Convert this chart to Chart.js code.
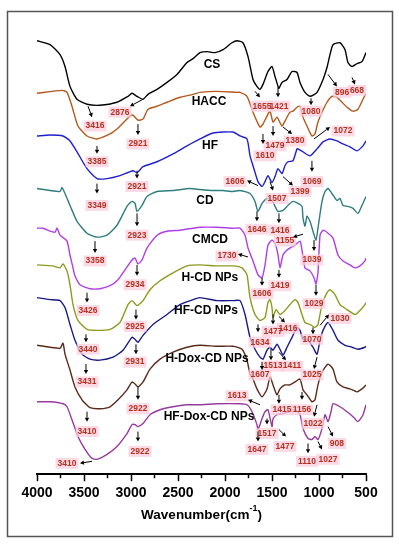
<!DOCTYPE html>
<html>
<head>
<meta charset="utf-8">
<title>FTIR spectra</title>
<script src="https://cdn.jsdelivr.net/npm/chart.js@4.4.1/dist/chart.umd.min.js"></script>
<style>
  body { margin: 0; background: #fff; }
  #wrap { width: 399px; height: 550px; }
</style>
</head>
<body>
<div id="wrap"><canvas id="ftir" width="399" height="550"></canvas></div>
<script>
// [wavenumber cm-1, transmittance (stacked, a.u.)]
const cs = [[4000,437],[3862,433],[3755,423],[3702,411],[3649,391],[3574,378],[3468,373],[3330,372],[3149,375],[3032,381],[2989,384],[2936,381],[2872,378],[2819,383],[2723,388],[2617,395],[2511,403],[2404,415],[2340,419],[2266,425],[2191,426],[2106,425],[2021,428],[1926,435],[1872,437],[1809,435],[1755,421],[1702,398],[1660,391],[1628,388],[1596,393],[1543,406],[1500,411],[1468,401],[1436,391],[1426,389],[1394,395],[1340,398],[1287,406],[1234,405],[1202,395],[1149,385],[1096,381],[1021,385],[957,398],[915,410],[883,423],[851,433],[777,435],[723,428],[692,415],[649,411],[596,414],[543,416],[500,425]];
const hacc = [[4000,384],[3734,387],[3681,385],[3628,371],[3564,351],[3468,341],[3362,338],[3223,343],[3149,348],[3064,356],[3011,361],[2979,362],[2926,357],[2872,358],[2819,368],[2723,371],[2617,375],[2479,380],[2340,383],[2266,385],[2085,386],[1872,385],[1840,385],[1766,381],[1702,365],[1628,350],[1596,353],[1553,361],[1521,366],[1489,355],[1447,360],[1394,351],[1362,356],[1309,365],[1277,366],[1234,370],[1202,371],[1170,360],[1128,351],[1075,341],[1043,343],[1011,355],[968,365],[915,375],[862,381],[809,380],[755,375],[702,370],[638,366],[585,368],[532,378],[500,384]];
const hf = [[4000,341],[3862,342],[3723,341],[3649,336],[3574,325],[3468,308],[3362,298],[3255,298],[3117,301],[2979,306],[2936,304],[2872,310],[2723,315],[2553,323],[2404,331],[2266,338],[2128,344],[1915,345],[1840,341],[1766,338],[1734,321],[1702,311],[1649,295],[1606,290],[1574,295],[1543,301],[1500,294],[1468,300],[1436,308],[1394,303],[1362,311],[1330,315],[1277,316],[1234,328],[1223,328],[1170,325],[1096,321],[1021,328],[957,335],[883,338],[809,336],[745,333],[670,330],[596,326],[532,331],[500,336]];
const cd = [[4000,288],[3862,286],[3755,285],[3734,289],[3702,283],[3649,271],[3574,255],[3468,243],[3362,239],[3255,241],[3149,251],[3043,270],[2989,275],[2957,273],[2936,265],[2883,271],[2830,280],[2723,285],[2553,286],[2372,288],[2266,287],[2128,286],[2021,286],[1915,285],[1840,286],[1734,283],[1681,275],[1649,265],[1606,273],[1553,278],[1500,276],[1468,270],[1436,265],[1383,266],[1330,271],[1277,275],[1223,273],[1181,270],[1170,258],[1149,250],[1128,260],[1096,255],[1064,245],[1032,236],[1011,248],[968,275],[936,285],[904,288],[862,283],[809,276],[777,278],[745,271],[692,270],[638,268],[585,263],[543,271],[500,280]];
const cmcd = [[4000,248],[3936,248],[3862,245],[3809,244],[3787,248],[3755,241],[3681,235],[3649,221],[3617,208],[3596,200],[3543,191],[3436,187],[3330,187],[3223,190],[3138,196],[3064,206],[2989,216],[2957,218],[2926,212],[2883,216],[2830,228],[2723,241],[2617,245],[2479,246],[2340,248],[2266,249],[2085,249],[1915,248],[1840,248],[1787,241],[1755,228],[1702,215],[1649,201],[1606,198],[1574,211],[1543,231],[1500,236],[1468,233],[1436,221],[1415,208],[1383,221],[1340,226],[1309,228],[1255,231],[1202,235],[1181,226],[1149,208],[1096,205],[1053,198],[1032,192],[1011,203],[989,241],[957,246],[904,243],[851,238],[798,221],[745,215],[670,211],[617,208],[564,210],[511,215],[500,218]];
const hcd = [[4000,211],[3830,210],[3755,208],[3723,212],[3681,205],[3649,191],[3617,171],[3564,155],[3468,146],[3362,145],[3223,146],[3117,153],[3032,171],[2989,175],[2936,170],[2872,175],[2798,186],[2691,195],[2553,203],[2404,210],[2266,211],[2085,210],[1915,210],[1819,208],[1766,201],[1734,178],[1681,161],[1628,155],[1574,158],[1543,173],[1521,176],[1500,168],[1489,158],[1457,166],[1415,161],[1362,165],[1309,171],[1255,176],[1223,173],[1181,161],[1149,153],[1096,151],[1043,148],[1011,151],[968,171],[915,183],[883,186],[830,181],[777,171],[702,166],[617,161],[564,165],[511,171],[500,173]];
const hfcd = [[4000,178],[3862,176],[3755,175],[3702,168],[3649,151],[3596,135],[3521,121],[3436,116],[3330,115],[3191,118],[3085,125],[2989,138],[2957,136],[2926,133],[2872,140],[2766,151],[2617,161],[2479,171],[2340,176],[2266,178],[2085,175],[1915,175],[1840,175],[1787,161],[1734,138],[1681,126],[1628,118],[1596,116],[1553,125],[1521,128],[1489,125],[1447,131],[1415,126],[1383,120],[1340,128],[1287,138],[1234,148],[1202,145],[1170,136],[1117,135],[1064,128],[1021,121],[989,135],[957,145],[904,153],[851,145],[798,135],[723,130],[649,128],[585,126],[511,128],[500,129]];
const hdox = [[4000,130],[3862,128],[3755,127],[3723,132],[3702,121],[3649,105],[3596,88],[3521,75],[3436,67],[3330,66],[3223,68],[3138,75],[3043,85],[2989,93],[2957,91],[2926,88],[2872,93],[2798,106],[2691,116],[2553,123],[2404,128],[2266,130],[2085,129],[1915,129],[1819,126],[1766,115],[1734,101],[1702,96],[1660,86],[1606,78],[1553,86],[1521,98],[1489,90],[1447,80],[1415,86],[1362,90],[1309,90],[1255,93],[1202,96],[1170,85],[1128,80],[1075,73],[1043,75],[1011,90],[968,103],[904,111],[851,106],[809,93],[745,88],[670,86],[596,83],[543,86],[500,90]];
const hfdox = [[4000,73],[3862,73],[3723,71],[3681,68],[3628,55],[3564,38],[3489,25],[3415,16],[3362,15],[3255,20],[3149,28],[3043,41],[2989,50],[2957,50],[2926,48],[2872,51],[2798,60],[2691,65],[2553,68],[2404,70],[2266,70],[2085,71],[1840,71],[1766,70],[1713,63],[1660,50],[1649,45],[1606,56],[1574,63],[1543,65],[1500,48],[1489,56],[1447,60],[1383,61],[1330,63],[1255,65],[1202,60],[1170,46],[1117,36],[1075,35],[1043,38],[1011,35],[968,46],[936,60],[904,53],[872,63],[851,71],[777,68],[702,63],[638,58],[585,53],[532,60],[500,70]];

const spectra = [cs, hacc, hf, cd, cmcd, hcd, hfcd, hdox, hfdox];
const sampleNames = ['CS', 'HACC', 'HF', 'CD', 'CMCD', 'H-CD NPs', 'HF-CD NPs', 'H-Dox-CD NPs', 'HF-Dox-CD NPs'];
const lineColors = ['#000000', '#b4581c', '#2020d0', '#2e7d80', '#b03ee8', '#8c9a1e', '#1a1a8a', '#5a2a1a', '#963a9e'];

// where each sample name sits: [wavenumber, transmittance]
const namePos = [[2138,413],[2170,376],[2160,331],[2213,276],[2160,236],[2160,198],[2202,165],[2191,116],[2170,58]];

// peak labels: [text, label w, label t, arrow start w, t, arrow end w, t]
const peaks = [
  ['3416',3383,351, 3457,371, 3415,360],
  ['2876',3117,365, 2872,378, 3011,371],
  ['1655',1606,371, 1681,386, 1628,380],
  ['1421',1426,371, 1436,390, 1436,380],
  ['1080',1085,366, 1085,379, 1085,372],
  ['896',755,385, 904,403, 809,391],
  ['668',596,387, 649,400, 617,393],
  ['2921',2926,333, 2926,353, 2926,342],
  ['3385',3362,315, 3362,331, 3362,323],
  ['1610',1574,321, 1596,343, 1596,333],
  ['1479',1468,331, 1489,351, 1489,341],
  ['1380',1255,336, 1383,350, 1287,343],
  ['1072',745,346, 1053,338, 883,350],
  ['3349',3362,271, 3362,293, 3362,283],
  ['2921',2936,290, 2936,306, 2936,298],
  ['1606',1894,295, 1649,291, 1766,296],
  ['1507',1447,278, 1521,295, 1489,286],
  ['1399',1202,285, 1383,300, 1277,291],
  ['1069',1075,295, 1075,316, 1075,305],
  ['3358',3383,215, 3383,235, 3383,223],
  ['2923',2936,241, 2936,263, 2936,250],
  ['1646',1660,247, 1660,265, 1660,255],
  ['1416',1415,246, 1426,263, 1426,253],
  ['1155',1362,235, 1170,242, 1277,239],
  ['1039',1075,216, 1053,236, 1053,225],
  ['3426',3457,165, 3468,183, 3468,173],
  ['2934',2957,191, 2936,211, 2936,200],
  ['1730',1979,220, 1755,219, 1862,222],
  ['1606',1606,182, 1606,198, 1606,190],
  ['1419',1415,190, 1426,206, 1426,198],
  ['1029',1053,172, 1032,191, 1032,180],
  ['3440',3457,126, 3479,141, 3479,133],
  ['2925',2957,149, 2947,166, 2947,156],
  ['1634',1628,133, 1649,151, 1649,143],
  ['1477',1489,144, 1489,161, 1489,151],
  ['1416',1330,147, 1426,159, 1362,153],
  ['1070',1075,136, 1064,148, 1064,141],
  ['1030',777,157, 989,150, 894,161],
  ['3431',3468,93, 3479,111, 3479,101],
  ['2931',2957,113, 2947,131, 2947,121],
  ['1607',1628,100, 1606,113, 1606,105],
  ['1513',1489,109, 1511,126, 1511,115],
  ['1411',1287,109, 1426,123, 1351,115],
  ['1025',1075,100, 1021,118, 1053,106],
  ['3410',3468,43, 3468,63, 3468,53],
  ['2922',2926,66, 2926,88, 2926,75],
  ['1613',1872,79, 1628,70, 1755,75],
  ['1415',1394,65, 1426,80, 1426,71],
  ['1156',1181,65, 1181,83, 1181,75],
  ['1022',1064,51, 1021,70, 1053,58],
  ['3410',3681,11, 3415,13, 3543,11],
  ['2922',2904,23, 2926,43, 2926,33],
  ['1647',1660,25, 1649,43, 1649,33],
  ['1517',1553,41, 1553,56, 1553,50],
  ['1477',1362,28, 1426,45, 1351,38],
  ['1110',1128,13, 1117,31, 1117,21],
  ['1027',904,15, 1011,33, 968,25],
  ['908',809,31, 904,48, 851,38]
];

const majorTicks = [4000, 3500, 3000, 2500, 2000, 1500, 1000, 500];
const minorTicks = [3750, 3250, 2750, 2250, 1750, 1250, 750];

const sans = "'Liberation Sans', Arial, sans-serif";

function drawArrow(c, x1, y1, x2, y2) {
  const a = Math.atan2(y2 - y1, x2 - x1);
  const bx = x2 - Math.cos(a) * 4, by = y2 - Math.sin(a) * 4;
  c.beginPath(); c.moveTo(x1, y1); c.lineTo(bx, by); c.stroke();
  c.beginPath();
  c.moveTo(x2, y2);
  c.lineTo(bx + Math.sin(a) * 2.2, by - Math.cos(a) * 2.2);
  c.lineTo(bx - Math.sin(a) * 2.2, by + Math.cos(a) * 2.2);
  c.closePath(); c.fill();
}

const framePlugin = {
  id: 'frame',
  beforeDraw(chart) {
    const c = chart.ctx;
    c.save();
    c.fillStyle = '#fff';
    c.fillRect(0, 0, chart.width, chart.height);
    c.strokeStyle = '#555';
    c.lineWidth = 1.5;
    c.strokeRect(7.5, 11.5, 385, 525);
    c.restore();
  }
};

// labels, arrows, minor ticks and the axis title (with superscript)
const notesPlugin = {
  id: 'notes',
  afterDatasetsDraw(chart) {
    const c = chart.ctx, xs = chart.scales.x, ys = chart.scales.y;
    c.save();
    c.textAlign = 'center';
    c.textBaseline = 'middle';

    c.font = 'bold 8.5px ' + sans;
    peaks.forEach(p => {
      const lx = xs.getPixelForValue(p[1]), ly = ys.getPixelForValue(p[2]);
      const w = c.measureText(p[0]).width;
      c.fillStyle = 'rgba(250, 205, 222, 0.75)';
      c.fillRect(lx - w / 2 - 2, ly - 5.5, w + 4, 11);
    });
    peaks.forEach(p => {
      c.fillStyle = '#b8301e';
      c.fillText(p[0], xs.getPixelForValue(p[1]), ys.getPixelForValue(p[2]));
      c.strokeStyle = '#000'; c.fillStyle = '#000'; c.lineWidth = 1;
      drawArrow(c, xs.getPixelForValue(p[3]), ys.getPixelForValue(p[4]),
                   xs.getPixelForValue(p[5]), ys.getPixelForValue(p[6]));
    });

    c.font = 'bold 12px ' + sans;
    c.fillStyle = '#000';
    sampleNames.forEach((n, i) => {
      c.fillText(n, xs.getPixelForValue(namePos[i][0]), ys.getPixelForValue(namePos[i][1]));
    });
    c.restore();
  },
  afterDraw(chart) {
    const c = chart.ctx, xs = chart.scales.x, b = chart.chartArea.bottom;
    c.save();
    c.strokeStyle = '#000'; c.lineWidth = 1.5;
    minorTicks.forEach(v => {
      const px = xs.getPixelForValue(v);
      c.beginPath(); c.moveTo(px, b); c.lineTo(px, b + 4); c.stroke();
    });

    const main = 'Wavenumber(cm', sup = '-1', tail = ')';
    const mid = (chart.chartArea.left + chart.chartArea.right) / 2;
    const base = b + 45;
    c.fillStyle = '#000';
    c.textBaseline = 'alphabetic';
    c.textAlign = 'left';
    c.font = 'bold 13.5px ' + sans;
    const wMain = c.measureText(main).width, wTail = c.measureText(tail).width;
    c.font = 'bold 9px ' + sans;
    const wSup = c.measureText(sup).width;
    let x = mid - (wMain + wSup + wTail) / 2;
    c.font = 'bold 13.5px ' + sans;
    c.fillText(main, x, base); x += wMain;
    c.font = 'bold 9px ' + sans;
    c.fillText(sup, x, base - 8); x += wSup;
    c.font = 'bold 13.5px ' + sans;
    c.fillText(tail, x, base);
    c.restore();
  }
};

new Chart(document.getElementById('ftir'), {
  type: 'line',
  data: {
    datasets: spectra.map((s, i) => ({
      label: sampleNames[i],
      data: s,
      borderColor: lineColors[i],
      borderWidth: 1.4,
      pointRadius: 0,
      tension: 0.2,
      fill: false
    }))
  },
  options: {
    responsive: false,
    animation: false,
    layout: { padding: { left: 37, right: 33, top: 11, bottom: 44 } },
    plugins: { legend: { display: false }, tooltip: { enabled: false } },
    scales: {
      x: {
        type: 'linear',
        reverse: true,
        min: 500,
        max: 4000,
        afterBuildTicks: axis => { axis.ticks = majorTicks.map(v => ({ value: v })); },
        ticks: {
          color: '#000',
          font: { family: sans, size: 14, weight: 'bold' },
          padding: 4,
          maxRotation: 0,
          callback: v => String(v)
        },
        grid: { drawOnChartArea: false, tickLength: 7, tickColor: '#000', tickWidth: 1.5 },
        border: { display: true, color: '#000', width: 2 }
      },
      y: {
        display: false,
        min: 0,
        max: 467,
        title: { display: false, text: 'Transmittance (a.u.)' }
      }
    }
  },
  plugins: [framePlugin, notesPlugin]
});
</script>
</body>
</html>
